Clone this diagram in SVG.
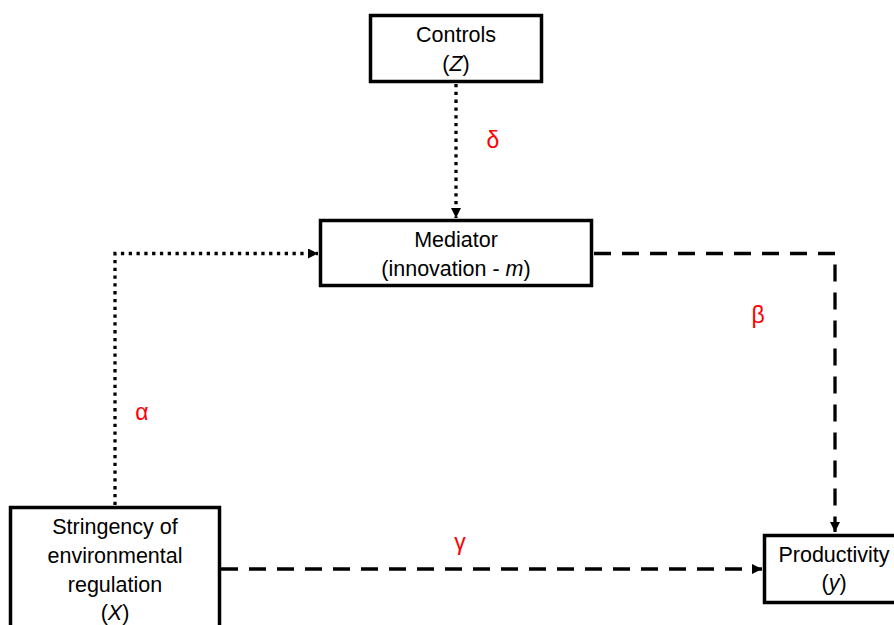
<svg xmlns="http://www.w3.org/2000/svg" width="894" height="625" viewBox="0 0 894 625">
<style>
.box{fill:#fff;stroke:#000;stroke-width:3.5}
.t{font-family:"Liberation Sans",Arial,sans-serif;font-size:21.5px;fill:#000;text-anchor:middle}
.g{font-family:"Liberation Sans",Arial,sans-serif;font-size:23px;fill:#f00;text-anchor:middle}
.dot{fill:none;stroke:#000;stroke-width:3.3;stroke-dasharray:3.3 4.5}
.dash{fill:none;stroke:#000;stroke-width:3.3;stroke-dasharray:17 11}
</style>
<defs>
<marker id="ah" viewBox="0 0 10 10" refX="10" refY="5" markerUnits="userSpaceOnUse" markerWidth="11" markerHeight="10" orient="auto">
<path d="M0,0 L10,5 L0,10 Z" fill="#000"/>
</marker>
</defs>
<rect width="894" height="625" fill="#fff"/>
<g id="connectors">
<path class="dot" d="M456,84 V218" marker-end="url(#ah)"/>
<path class="dot" d="M115,505 V253.5 H318" marker-end="url(#ah)"/>
<path class="dash" d="M594,253.5 H835 V532" marker-end="url(#ah)"/>
<path class="dash" d="M221,569 H762" marker-end="url(#ah)"/>
</g>
<g id="controls">
<rect class="box" x="370.5" y="15.5" width="171" height="66"/>
<text class="t" x="456" y="42">Controls</text>
<text class="t" x="456" y="71">(<tspan font-style="italic">Z</tspan>)</text>
</g>
<g id="mediator">
<rect class="box" x="320.5" y="220.5" width="271" height="65"/>
<text class="t" x="456" y="247">Mediator</text>
<text class="t" x="456" y="275.5">(innovation - <tspan font-style="italic">m</tspan>)</text>
</g>
<g id="stringency">
<rect class="box" x="10.5" y="507.5" width="209" height="140"/>
<text class="t" x="115" y="534">Stringency of</text>
<text class="t" x="115" y="563">environmental</text>
<text class="t" x="115" y="592">regulation</text>
<text class="t" x="115" y="620">(<tspan font-style="italic">X</tspan>)</text>
</g>
<g id="productivity">
<rect class="box" x="764.5" y="535.5" width="150" height="67"/>
<text class="t" x="834" y="562">Productivity</text>
<text class="t" x="834" y="590">(<tspan font-style="italic">y</tspan>)</text>
</g>
<g id="labels">
<text class="g" x="493" y="148">δ</text>
<text class="g" x="758" y="323">β</text>
<text class="g" x="142" y="420">α</text>
<text class="g" x="460" y="550">γ</text>
</g>
</svg>
